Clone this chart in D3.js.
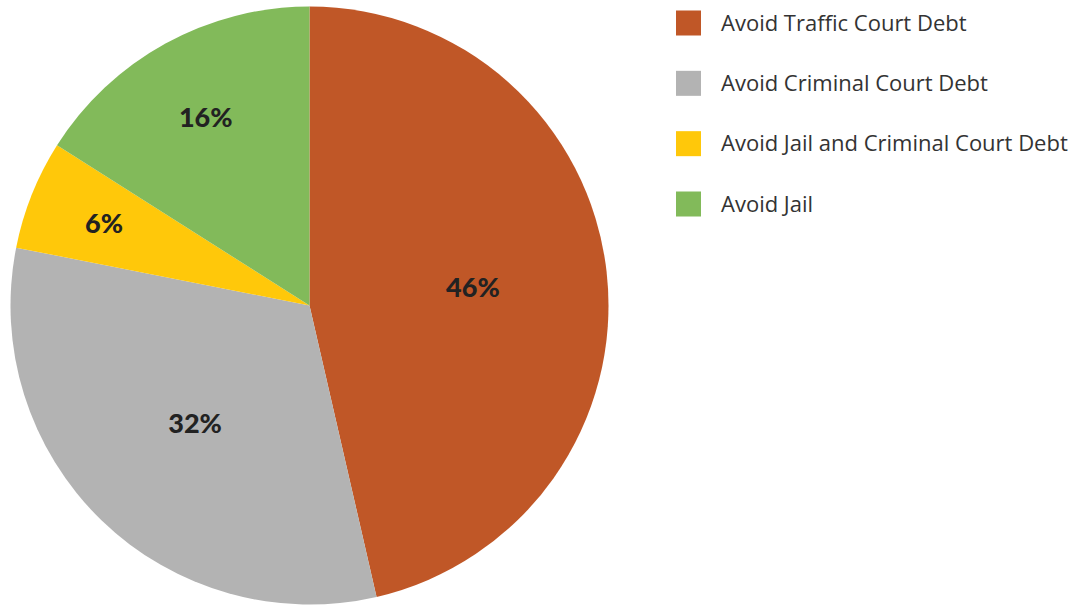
<!DOCTYPE html>
<html><head><meta charset="utf-8">
<script src="https://cdn.jsdelivr.net/npm/d3@7"></script>
<style>body{margin:0;background:#fff}svg{display:block}</style>
</head><body>
<svg id="chart" width="1078" height="605"></svg>
<script>
const categories = ["Avoid Traffic Court Debt","Avoid Criminal Court Debt","Avoid Jail and Criminal Court Debt","Avoid Jail"];
const values = [46.4, 31.7, 5.9, 16.0];
const colors = ["#C05727","#B3B3B3","#FFC80A","#82BA5A"];

const svg = d3.select("#chart");
const cx = 309.5, cy = 305.5, r = 299;
const data = categories.map((c,i)=>({cat:c, value:values[i], color:colors[i]}));
const pie = d3.pie().value(d=>d.value).sort(null);
const arcs = pie(data);
const arc = d3.arc().innerRadius(0).outerRadius(r);
const g = svg.append("g").attr("transform",`translate(${cx},${cy})`);
g.selectAll("path").data(arcs).join("path").attr("d",arc).attr("fill",d=>d.data.color);

g.selectAll("text").data(arcs).join("text")
  .attr("transform",d=>{
    const lr = d.data.value >= 30 ? r*0.55 : (d.data.value < 10 ? r*0.74 : r*0.72);
    const a = d3.arc().innerRadius(lr).outerRadius(lr);
    const [x,y] = a.centroid(d);
    return `translate(${x},${y})`;
  })
  .attr("text-anchor","middle").attr("dy","0.36em")
  .attr("font-family","Lato, 'Open Sans', sans-serif").attr("font-weight",900)
  .attr("font-size",27).attr("fill","#222")
  .text(d=>Math.round(d.data.value)+"%");

const leg = svg.append("g").attr("transform","translate(676,0)");
const ly = d3.scalePoint().domain(categories).range([23,204]);
leg.selectAll("rect").data(data).join("rect")
  .attr("x",0).attr("y",d=>ly(d.cat)-12.5).attr("width",25).attr("height",25).attr("fill",d=>d.color);
leg.selectAll("text").data(data).join("text")
  .attr("x",45).attr("y",d=>ly(d.cat)).attr("dy","0.35em")
  .attr("font-family","'Open Sans', sans-serif").attr("font-size",22).attr("fill","#333")
  .text(d=>d.cat);
</script>
</body></html>
